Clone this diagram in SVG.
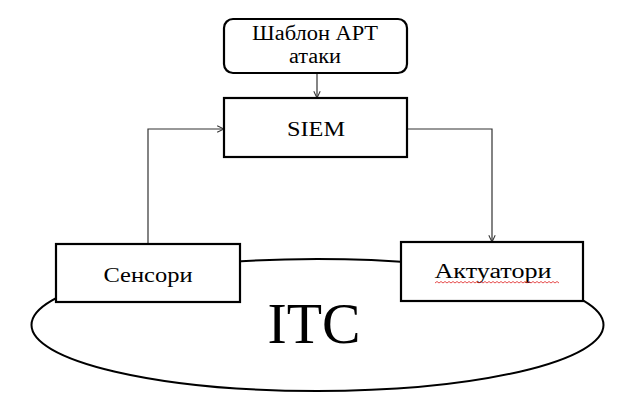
<svg xmlns="http://www.w3.org/2000/svg" width="621" height="396" viewBox="0 0 621 396">
<defs>
<marker id="arr" viewBox="0 0 10 10" refX="9.5" refY="5" markerWidth="8" markerHeight="8" orient="auto" markerUnits="userSpaceOnUse">
<polyline points="1,1 9.5,5 1,9" fill="none" stroke="#333" stroke-width="1.3"/>
</marker>
</defs>
<style>
.box{fill:#fff;stroke:#000;stroke-width:2.2}
.conn{fill:none;stroke:#333;stroke-width:1.2}
.t{font-family:"Liberation Serif","DejaVu Serif",serif;fill:#000;text-anchor:middle}
</style>
<rect width="621" height="396" fill="#fff"/>
<g id="itc">
<ellipse cx="317.5" cy="325" rx="286" ry="66" fill="#fff" stroke="#000" stroke-width="2"/>
<text class="t" x="314" y="343" font-size="56" textLength="93" lengthAdjust="spacingAndGlyphs">ITC</text>
</g>
<g id="connectors">
<line class="conn" x1="317" y1="74" x2="317" y2="98" marker-end="url(#arr)"/>
<polyline class="conn" points="148,244 148,129 224,129" marker-end="url(#arr)"/>
<polyline class="conn" points="407,129 492,129 492,242" marker-end="url(#arr)"/>
</g>
<g id="template">
<rect class="box" x="224" y="19" width="183" height="54" rx="9"/>
<text class="t" x="315" y="40" font-size="20" textLength="126" lengthAdjust="spacingAndGlyphs">Шаблон APT</text>
<text class="t" x="315" y="63" font-size="20" textLength="52" lengthAdjust="spacingAndGlyphs">атаки</text>
</g>
<g id="siem">
<rect class="box" x="224" y="98" width="183" height="59"/>
<text class="t" x="316" y="136" font-size="20" textLength="58" lengthAdjust="spacingAndGlyphs">SIEM</text>
</g>
<g id="sensors">
<rect class="box" x="56" y="244" width="184" height="58"/>
<text class="t" x="148" y="282" font-size="20" textLength="89" lengthAdjust="spacingAndGlyphs">Сенсори</text>
</g>
<g id="actuators">
<rect class="box" x="401" y="242" width="182" height="59"/>
<text class="t" x="493" y="278" font-size="20" textLength="117" lengthAdjust="spacingAndGlyphs">Актуатори</text>
<path d="M435,283 l2,-1.5 l2,1.5 l2,-1.5 l2,1.5 l2,-1.5 l2,1.5 l2,-1.5 l2,1.5 l2,-1.5 l2,1.5 l2,-1.5 l2,1.5 l2,-1.5 l2,1.5 l2,-1.5 l2,1.5 l2,-1.5 l2,1.5 l2,-1.5 l2,1.5 l2,-1.5 l2,1.5 l2,-1.5 l2,1.5 l2,-1.5 l2,1.5 l2,-1.5 l2,1.5 l2,-1.5 l2,1.5 l2,-1.5 l2,1.5 l2,-1.5 l2,1.5 l2,-1.5 l2,1.5 l2,-1.5 l2,1.5 l2,-1.5 l2,1.5 l2,-1.5 l2,1.5 l2,-1.5 l2,1.5 l2,-1.5 l2,1.5 l2,-1.5 l2,1.5 l2,-1.5 l2,1.5 l2,-1.5 l2,1.5 l2,-1.5 l2,1.5 l2,-1.5 l2,1.5 l2,-1.5 l2,1.5 l2,-1.5 l2,1.5 l2,-1.5 l2,1.5" fill="none" stroke="#e02020" stroke-width="0.8"/>
</g>
</svg>
